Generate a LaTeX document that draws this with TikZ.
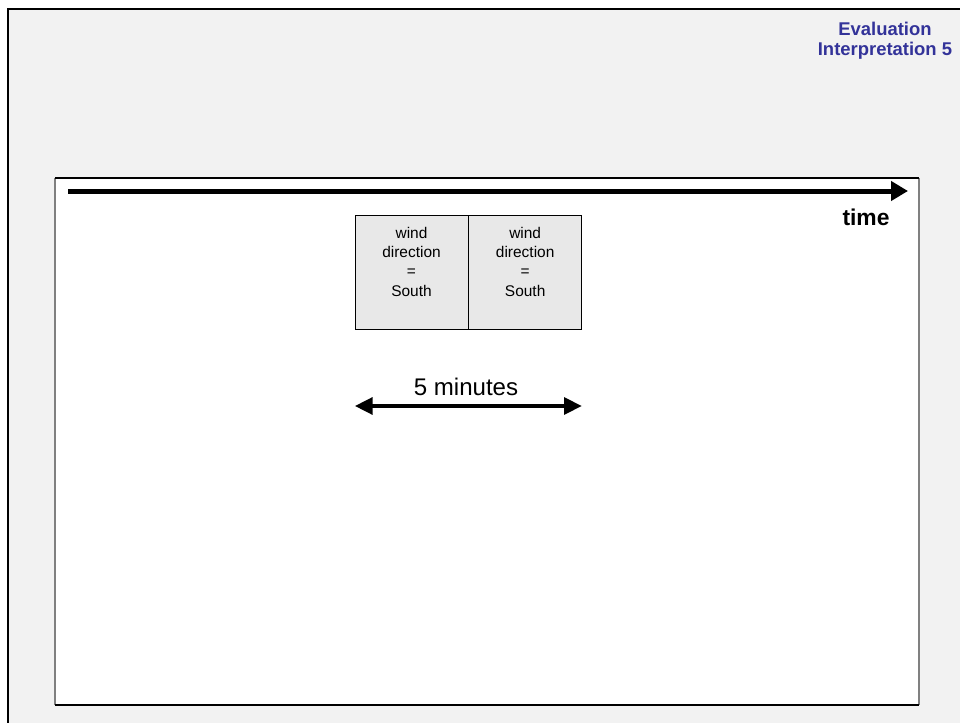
\documentclass[tikz,border=0pt]{standalone}
\usepackage{fontspec}
\setmainfont{Liberation Sans}
\usepackage{xcolor}
\usetikzlibrary{positioning, arrows.meta}

\definecolor{slidebg}{HTML}{F2F2F2}
\definecolor{titleblue}{HTML}{333399}

\begin{document}
\begin{tikzpicture}[
    x=0.02cm, y=-0.02cm,
    cell/.style={draw, fill=#1, minimum width=2.26cm, minimum height=2.28cm, inner sep=0pt, align=center, font=\fontsize{8.8}{11}\selectfont},
    timearrow/.style={-{Triangle[length=0.34cm, width=0.38cm]}, line width=0.1cm},
    spanarrow/.style={{Triangle[length=0.36cm, width=0.33cm]}-{Triangle[length=0.36cm, width=0.33cm]}, line width=0.09cm},
    lbl/.style={font=\bfseries\fontsize{#1}{#1}\selectfont},
  ]
  \useasboundingbox (0,0) rectangle (960,723);

  % ---- Slide frame ----
  \fill[slidebg] (8,9) rectangle (960,723);
  \draw[line width=1.7pt] (8,723) -- (8,9) -- (960,9);
  \node[text=titleblue, align=center, inner sep=0pt, font=\bfseries\fontsize{10.5}{11.6}\selectfont] (title) at (885,41) {Evaluation\\Interpretation 5};

  % ---- Panel ----
  \fill[white] (55,178) rectangle (919,705);
  \draw[gray, line width=0.8pt] (55,178) -- (55,705);
  \draw[gray, line width=0.8pt] (919,178) -- (919,705);
  \draw[line width=0.6pt] (55,178) -- (919,178);
  \draw[line width=0.6pt] (55,705) -- (919,705);

  % ---- Time axis ----
  \coordinate (t0) at (68,191);
  \coordinate (t1) at (908,191);
  \draw[timearrow] (t0) -- (t1);
  \node[lbl=13] (timelbl) at (866,217) {time};

  % ---- Observations ----
  \node[cell=gray!18] (dir1) at (411.5,272) {wind\\direction\\=\\South\\[1pt]~};
  \node[cell=gray!18, right=0pt of dir1] (dir2) {wind\\direction\\=\\South\\[1pt]~};

  % ---- Interval ----
  \coordinate (s0) at (dir1.west |- 0,406);
  \coordinate (s1) at (dir2.east |- 0,406);
  \draw[spanarrow] (s0) -- (s1);
  \node[font=\fontsize{13.7}{15}\selectfont] (spanlbl) at (466,387) {5 minutes};

\end{tikzpicture}
\end{document}
